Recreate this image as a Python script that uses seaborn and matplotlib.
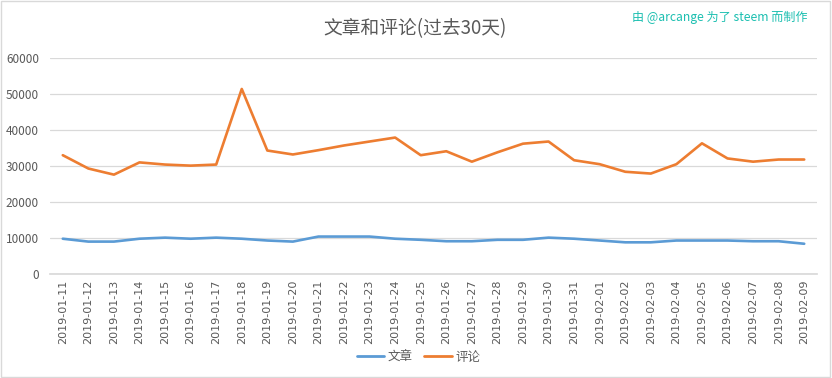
import pandas as pd
import seaborn as sns
import matplotlib.pyplot as plt
from matplotlib.patches import Rectangle

dates = list(pd.date_range('2019-01-11', '2019-02-09').strftime('%Y-%m-%d'))

posts = [9800, 9000, 9000, 9800, 10100, 9800, 10100, 9800, 9300, 9000,
         10400, 10400, 10400, 9800, 9500, 9100, 9100, 9500, 9500, 10100,
         9800, 9300, 8800, 8800, 9300, 9300, 9300, 9100, 9100, 8400]
comments = [33000, 29300, 27600, 31000, 30400, 30100, 30400, 51400, 34300, 33200,
            34400, 35700, 36800, 37900, 33000, 34100, 31200, 33800, 36200, 36800,
            31600, 30500, 28400, 27900, 30500, 36300, 32100, 31200, 31800, 31800]

series_names = ['文章', '评论']
colors = ['#5B9BD5', '#ED7D31']

df = pd.DataFrame({
    'date': dates * 2,
    'value': posts + comments,
    'series': [series_names[0]] * len(dates) + [series_names[1]] * len(dates),
})

sns.set_theme(style='white')
plt.rcParams['font.family'] = ['Noto Sans CJK SC', 'DejaVu Sans']

fig = plt.figure(figsize=(8.32, 3.78), dpi=100)
ax = fig.add_axes([50 / 832, 1 - 274 / 378, 767 / 832, 216 / 378])

sns.lineplot(data=df, x='date', y='value', hue='series', palette=colors,
             linewidth=1.9, ax=ax, legend=False, sort=False)

ax.set_xlim(-0.5, len(dates) - 0.5)
ax.set_ylim(0, 60000)
ax.set_yticks(range(0, 60001, 10000))
ax.yaxis.grid(True, color='#D9D9D9', linewidth=0.9)
ax.set_axisbelow(True)
ax.set_xlabel('')
ax.set_ylabel('')
for s in ['top', 'right', 'left']:
    ax.spines[s].set_visible(False)
ax.spines['bottom'].set_color('#D9D9D9')
ax.tick_params(axis='x', rotation=90, labelsize=8, colors='#595959', length=0, pad=4)
ax.tick_params(axis='y', labelsize=8.5, colors='#595959', length=0, pad=8)
for lbl in ax.get_xticklabels():
    lbl.set_family('DejaVu Sans')

fig.text(0.499, 0.925, '文章和评论(过去30天)', ha='center', va='center',
         fontsize=13.5, color='#595959')
fig.text(0.971, 0.955, '由 @arcange 为了 steem 而制作', ha='right', va='center',
         fontsize=8.7, color='#1BBFB0')

# legend
handles = [plt.Line2D([], [], color=c, linewidth=2) for c in colors]
fig.legend(handles, series_names, loc='center', bbox_to_anchor=(0.503, 0.055),
           ncol=2, frameon=False, fontsize=9, handlelength=2.2,
           columnspacing=0.9, handletextpad=0.3, labelcolor='#595959')

fig.patches.append(Rectangle((0.001, 0.002), 0.997, 0.995, transform=fig.transFigure,
                             fill=False, edgecolor='#D9D9D9', linewidth=1))

plt.savefig('out.png', dpi=100)
